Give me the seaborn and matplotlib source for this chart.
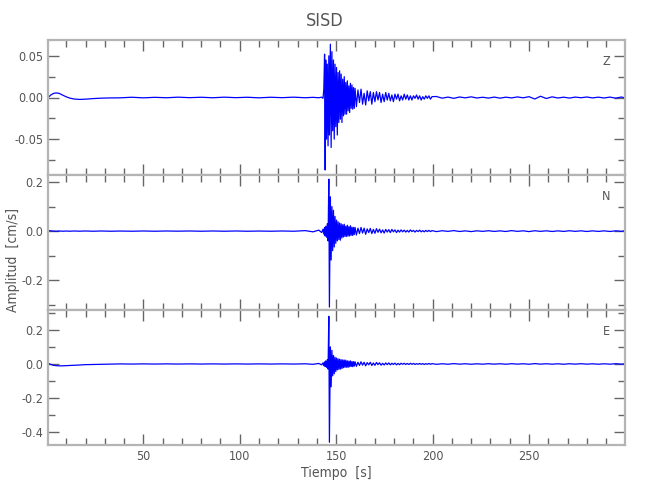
import matplotlib
matplotlib.use('Agg')
import numpy as np
import pandas as pd
import matplotlib.pyplot as plt
from matplotlib import font_manager
from matplotlib.ticker import MultipleLocator, FormatStrFormatter
import seaborn as sns

# tiempos de muestra (s)
t_pre = [0.6, 2, 3.5, 5, 6.5, 8, 10, 12, 14, 17, 20, 24, 28, 33, 38, 44, 50, 56, 62, 68,
         74, 80, 86, 92, 98, 104, 110, 116, 122, 128, 134, 138, 141, 142.5, 143.2]
t_burst = [143.6, 144.0, 144.3, 144.6, 145.0, 145.4, 145.8, 146.2, 146.5, 147.0,
           147.4, 147.8, 148.2, 148.6, 149.0, 149.4, 149.8, 150.2, 150.6, 151.0,
           151.4, 151.8, 152.2, 152.6, 153.0, 153.4, 153.8, 154.2, 154.6, 155.0,
           155.4, 155.8, 156.2, 156.6, 157.0, 157.4, 157.8, 158.2, 158.6, 159.0,
           159.4, 159.8]
t_coda = [160.5, 161.3, 162.1, 162.9, 163.7, 164.5, 165.3, 166.1, 166.9, 167.7,
          168.5, 169.3, 170.1, 170.9, 171.7, 172.5, 173.3, 174.1, 174.9, 175.7,
          176.5, 177.3, 178.1, 178.9, 179.7, 180.5, 181.3, 182.1, 182.9, 183.7,
          184.5, 185.3, 186.1, 186.9, 187.7, 188.5, 189.3, 190.1, 190.9, 191.7,
          192.5, 193.3, 194.1, 194.9, 195.7, 196.5, 197.3, 198.1, 198.9, 199.7]
t_tail = [202, 205, 208, 211, 214, 217, 220, 223, 226, 229, 232, 235, 238, 241, 244, 247,
          250, 253, 256, 259, 262, 265, 268, 271, 274, 277, 280, 283, 286, 289, 292, 295,
          298, 299.5]

# componente Z (cm/s)
z_pre = [0.0, 0.003, 0.005, 0.0055, 0.0048, 0.003, 0.0008, -0.0008, -0.0018, -0.0023,
         -0.0020, -0.0013, -0.0008, -0.0005, -0.0004, 0.0003, -0.0004, 0.0002, -0.0003, 0.0004,
         -0.0002, 0.0003, -0.0003, 0.0004, -0.0002, 0.0003, -0.0004, 0.0003, -0.0002, 0.0004,
         -0.0003, 0.0002, -0.0003, 0.0004, -0.0010]
z_burst = [0.010, 0.052, -0.087, 0.045, -0.050, 0.040, -0.058, 0.050, -0.045, 0.064,
           -0.060, 0.055, -0.040, 0.045, -0.050, 0.040, -0.035, 0.036, -0.045, 0.030,
           -0.030, 0.032, -0.026, 0.028, -0.030, 0.022, -0.022, 0.025, -0.020, 0.018,
           -0.020, 0.020, -0.016, 0.014, -0.018, 0.017, -0.013, 0.015, -0.014, 0.012,
           -0.013, 0.011]
z_coda = [-0.011, 0.009, -0.006, 0.010, -0.008, 0.005, -0.009, 0.008, -0.004, 0.007,
          -0.008, 0.006, -0.005, 0.007, -0.003, 0.006, -0.006, 0.004, -0.005, 0.006,
          -0.003, 0.005, -0.004, 0.003, -0.005, 0.004, -0.002, 0.004, -0.004, 0.002,
          -0.003, 0.004, -0.002, 0.003, -0.003, 0.002, -0.003, 0.002, -0.001, 0.003,
          -0.002, 0.002, -0.003, 0.001, -0.002, 0.002, -0.001, 0.002, -0.002, 0.001]
z_tail = [0.0012, -0.0008, 0.0005, -0.0010, 0.0006, -0.0004, 0.0008, -0.0006, 0.0003, -0.0007,
          0.0005, -0.0008, 0.0004, -0.0005, 0.0007, -0.0004, 0.0010, -0.0018, 0.0015, -0.0012,
          0.0008, -0.0006, 0.0004, -0.0007, 0.0005, -0.0003, 0.0006, -0.0005, 0.0004, -0.0006,
          0.0005, -0.0008, 0.0006, -0.0004]

# componente N
n_pre = [0.002, 0.001, 0.0, -0.0005, 0.0005, -0.0005, 0.0003, -0.0005, 0.0005, -0.0003,
         0.0005, -0.0005, 0.0005, -0.0005, 0.0003, -0.0005, 0.0005, -0.0005, 0.0005, -0.0003,
         0.0005, -0.0005, 0.0005, -0.0005, 0.0005, -0.0005, 0.0003, -0.0005, 0.0005, -0.0005,
         0.002, -0.003, 0.004, -0.006, 0.008]
n_burst = [-0.012, 0.015, -0.020, 0.020, -0.025, 0.030, -0.040, 0.212, -0.310, 0.140,
           -0.118, 0.100, -0.080, 0.085, -0.065, 0.060, -0.050, 0.045, -0.040, 0.038,
           -0.035, 0.033, -0.037, 0.030, -0.028, 0.026, -0.024, 0.028, -0.022, 0.020,
           -0.022, 0.024, -0.020, 0.018, -0.020, 0.022, -0.017, 0.016, -0.018, 0.015,
           -0.014, 0.015]
n_coda = [-0.016, 0.012, -0.010, 0.015, -0.008, 0.012, -0.013, 0.009, -0.006, 0.011,
          -0.010, 0.007, -0.009, 0.010, -0.005, 0.008, -0.007, 0.005, -0.008, 0.007,
          -0.004, 0.006, -0.006, 0.007, -0.003, 0.005, -0.006, 0.004, -0.004, 0.005,
          -0.003, 0.004, -0.004, 0.003, -0.004, 0.005, -0.002, 0.003, -0.004, 0.003,
          -0.002, 0.004, -0.003, 0.002, -0.003, 0.003, -0.002, 0.003, -0.002, 0.002]
n_tail = [-0.002, 0.0015, -0.001, 0.002, -0.0015, 0.001, -0.002, 0.0012, -0.001, 0.0015,
          -0.0012, 0.001, -0.0015, 0.002, -0.001, 0.0012, -0.002, 0.0015, -0.001, 0.0012,
          -0.0015, 0.001, -0.0012, 0.0015, -0.001, 0.0012, -0.0015, 0.001, -0.0012, 0.001,
          -0.0015, 0.0012, -0.001, 0.0015]

# componente E
e_pre = [0.005, -0.003, -0.008, -0.010, -0.011, -0.011, -0.010, -0.009, -0.008, -0.006,
         -0.004, -0.003, -0.002, -0.001, 0.0003, -0.0005, 0.0005, -0.0005, 0.0005, -0.0005,
         0.0005, -0.0005, 0.0005, -0.0005, 0.0005, -0.0005, 0.0005, -0.0005, 0.0005, -0.0005,
         0.001, -0.002, 0.003, -0.005, 0.007]
e_burst = [-0.010, 0.012, -0.015, 0.018, -0.020, 0.025, -0.030, 0.280, -0.460, 0.100,
           -0.134, 0.080, -0.070, 0.050, -0.058, 0.040, -0.045, 0.035, -0.035, 0.030,
           -0.032, 0.028, -0.030, 0.025, -0.027, 0.024, -0.022, 0.023, -0.020, 0.022,
           -0.019, 0.018, -0.020, 0.017, -0.016, 0.018, -0.015, 0.014, -0.016, 0.014,
           -0.013, 0.013]
e_coda = [-0.014, 0.010, -0.009, 0.013, -0.007, 0.010, -0.011, 0.008, -0.005, 0.010,
          -0.009, 0.006, -0.008, 0.009, -0.004, 0.007, -0.007, 0.004, -0.006, 0.006,
          -0.004, 0.006, -0.005, 0.004, -0.003, 0.005, -0.005, 0.003, -0.004, 0.004,
          -0.002, 0.004, -0.003, 0.003, -0.003, 0.004, -0.002, 0.003, -0.003, 0.002,
          -0.002, 0.003, -0.002, 0.002, -0.003, 0.002, -0.002, 0.003, -0.002, 0.002]
e_tail = [-0.002, 0.0012, -0.0015, 0.002, -0.001, 0.0012, -0.0015, 0.001, -0.0012, 0.0015,
          -0.001, 0.0012, -0.0015, 0.0015, -0.001, 0.0012, -0.0015, 0.002, -0.001, 0.0012,
          -0.0012, 0.001, -0.0015, 0.0012, -0.001, 0.0015, -0.0012, 0.001, -0.0015, 0.001,
          -0.0012, 0.0015, -0.001, 0.0012]

tiempo = t_pre + t_burst + t_coda + t_tail
trazas = {
    'Z': z_pre + z_burst + z_coda + z_tail,
    'N': n_pre + n_burst + n_coda + n_tail,
    'E': e_pre + e_burst + e_coda + e_tail,
}

sns.set_style('white')
names = {f.name for f in font_manager.fontManager.ttflist}
fam = 'Liberation Sans Narrow' if 'Liberation Sans Narrow' in names else 'DejaVu Sans'
plt.rcParams['font.family'] = [fam, 'DejaVu Sans']
plt.rcParams['font.stretch'] = 'condensed'
gris = '#b4b4b4'
txt = '#555555'

fig, axes = plt.subplots(3, 1, figsize=(6.5, 5), dpi=100, sharex=True)
fig.subplots_adjust(left=0.074, right=0.9615, top=0.92, bottom=0.11, hspace=0)

ylims = {'Z': (-0.093, 0.069), 'N': (-0.322, 0.229), 'E': (-0.476, 0.317)}
mayor = {'Z': 0.05, 'N': 0.2, 'E': 0.2}
menor = {'Z': 0.025, 'N': 0.1, 'E': 0.1}
fmt = {'Z': '%.2f', 'N': '%.1f', 'E': '%.1f'}

for ax, comp in zip(axes, ['Z', 'N', 'E']):
    df = pd.DataFrame({'t': tiempo, 'a': trazas[comp]})
    sns.lineplot(data=df, x='t', y='a', ax=ax, color='blue', linewidth=0.9,
                 estimator=None, sort=False)
    ax.set_xlim(0.6, 299.8)
    ax.set_ylim(*ylims[comp])
    ax.yaxis.set_major_locator(MultipleLocator(mayor[comp]))
    ax.yaxis.set_minor_locator(MultipleLocator(menor[comp]))
    ax.yaxis.set_major_formatter(FormatStrFormatter(fmt[comp]))
    ax.xaxis.set_major_locator(MultipleLocator(50))
    ax.xaxis.set_minor_locator(MultipleLocator(10))
    ax.tick_params(which='both', direction='in', top=True, right=True, bottom=True, left=True,
                   color='#666666', labelcolor=txt, labelsize=9, width=1)
    ax.tick_params(which='major', length=8)
    ax.tick_params(which='minor', length=5)
    for s in ax.spines.values():
        s.set_color(gris)
        s.set_linewidth(1.6)
    ax.set_xlabel('')
    ax.set_ylabel('')
    ax.text(0.967, 0.84, comp, transform=ax.transAxes, ha='center', va='center',
            fontsize=9, color=txt)

axes[-1].set_xlabel('Tiempo  [s]', fontsize=10, color=txt, labelpad=2)
fig.text(0.02, 0.48, 'Amplitud  [cm/s]', rotation=90, ha='center', va='center',
         fontsize=10, color=txt)
fig.suptitle('SISD', y=0.975, fontsize=13, color=txt)

fig.savefig('out.png', dpi=100)
